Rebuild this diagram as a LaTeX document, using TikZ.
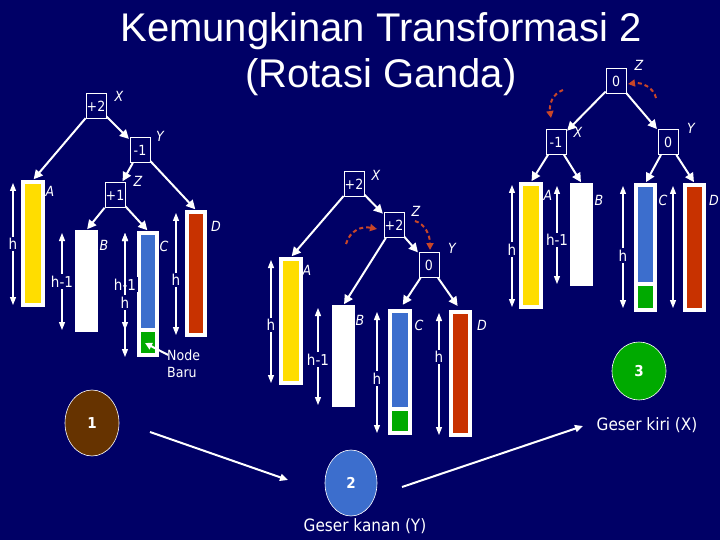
\documentclass[tikz,border=0pt]{standalone}
\usepackage{fontspec}
\setmainfont{DejaVu Sans Condensed}
\newfontfamily\titlefont{Liberation Sans}
\usetikzlibrary{shapes.geometric,arrows.meta,calc}
\definecolor{bg}{RGB}{0,0,102}
\definecolor{cyel}{RGB}{255,221,0}
\definecolor{cblue}{RGB}{60,110,205}
\definecolor{cgreen}{RGB}{0,170,0}
\definecolor{cred}{RGB}{200,50,0}
\definecolor{cbrown}{RGB}{102,51,0}
\definecolor{rdash}{RGB}{200,70,40}
\begin{document}
\begin{tikzpicture}[x=1pt,y=-1pt,
  bal/.style={draw=white, line width=0.8pt, minimum width=20pt, minimum height=25pt, inner sep=0pt, text=white, font=\fontsize{14}{14}\selectfont},
  lbl/.style={text=white, inner sep=0pt, font=\itshape\fontsize{14}{14}\selectfont},
  arr/.style={draw=white, line width=2pt, shorten >=1pt, -{Triangle[length=9pt,width=9pt]}},
  harr/.style={draw=white, line width=1.1pt, {Triangle[length=8pt,width=6pt]}-{Triangle[length=8pt,width=6pt]}},
  hl/.style={fill=bg, text=white, inner sep=1.5pt, font=\fontsize{15}{15}\selectfont},
  bar/.style={draw=white, line width=4pt, inner sep=0pt},
  rarr/.style={draw=rdash, line width=2pt, dash pattern=on 4pt off 3pt, -{Triangle[length=7pt,width=7pt]}},
  circ/.style={ellipse, draw=white, line width=0.6pt, text=white, font=\bfseries\fontsize{15}{15}\selectfont},
  captxt/.style={text=white, font=\fontsize{17}{17}\selectfont}
]
\useasboundingbox (0,0) rectangle (720,540);
\fill[bg] (0,0) rectangle (720,540);

% title
\node[text=white, anchor=base, font=\titlefont\fontsize{40}{40}\selectfont] (t1) at (381,42) {Kemungkinan Transformasi 2};
\node[text=white, anchor=base, font=\titlefont\fontsize{40}{40}\selectfont] (t2) at (381,88) {(Rotasi Ganda)};

% ===== left tree =====
\node[bal] (lX) at (96,106) {+2};
\node[bal] (lY) at (140,150) {-1};
\node[bal] (lZ) at (115,195) {+1};
\node[lbl] (lXl) at (119,96) {X};
\node[lbl] (lYl) at (160,136) {Y};
\node[lbl] (lZl) at (138,181) {Z};

\node[bar, fill=cyel, minimum width=20pt, minimum height=123pt] (lA) at (33,243.5) {};
\node[bar, fill=white, minimum width=19pt, minimum height=98pt] (lB) at (86.5,281) {};
\node[bar, fill=white, minimum width=18pt, minimum height=122pt] (lC) at (148,294) {};
\fill[cblue] ($(lC.north west)+(4,4)$) rectangle ($(lC.south east)+(-4,-29)$);
\fill[cgreen] ($(lC.south west)+(4,-25)$) rectangle ($(lC.south east)+(-4,-4)$);
\node[bar, fill=cred, minimum width=18pt, minimum height=123pt] (lD) at (196,273.5) {};
\node[lbl] (lAl) at (50,191) {A};
\node[lbl] (lBl) at (104,245) {B};
\node[lbl] (lCl) at (164,246) {C};
\node[lbl] (lDl) at (216,226) {D};

\draw[arr] (lX) -- (lA.north);
\draw[arr] (lX) -- (lY);
\draw[arr] (lY) -- (lZ);
\draw[arr] (lY) -- (lD.north);
\draw[arr] (lZ) -- (lB.north);
\draw[arr] (lZ) -- (lC.north);

\draw[harr] (13,183) -- node[hl] {h} (13,305);
\draw[harr] (62,233) -- node[hl] {h-1} (62,330);
\draw[harr] (125,233) -- node[hl, pos=0.53] {h-1} (125,330);
\draw[harr] (125,233) -- node[hl, pos=0.56] {h} (125,357);
\draw[harr] (176,213) -- node[hl, pos=0.55] {h} (176,335);

\node[text=white, anchor=west, align=left, inner sep=0pt, font=\fontsize{14}{17}\selectfont] (nb) at (167,364) {Node\\Baru};
\draw[draw=white, line width=2pt, -{Triangle[length=7pt,width=7pt]}] ($(nb.north west)+(1,5)$) -- (145,343);

% ===== middle tree =====
\node[bal] (mX) at (354,184) {+2};
\node[bal] (mZ) at (394,225) {+2};
\node[bal] (mY) at (429,265) {0};
\node[lbl] (mXl) at (376,175) {X};
\node[lbl] (mZl) at (416,211) {Z};
\node[lbl] (mYl) at (452,248) {Y};

\node[bar, fill=cyel, minimum width=20pt, minimum height=124pt] (mA) at (291,321) {};
\node[bar, fill=white, minimum width=19pt, minimum height=98pt] (mB) at (343.5,356) {};
\node[bar, fill=white, minimum width=20pt, minimum height=122pt] (mC) at (400,372) {};
\fill[cblue] ($(mC.north west)+(4,4)$) rectangle ($(mC.south east)+(-4,-28)$);
\fill[cgreen] ($(mC.south west)+(4,-24)$) rectangle ($(mC.south east)+(-4,-4)$);
\node[bar, fill=cred, minimum width=19pt, minimum height=123pt] (mD) at (460.5,373.5) {};
\node[lbl] (mAl) at (307,270) {A};
\node[lbl] (mBl) at (360,320) {B};
\node[lbl] (mCl) at (419,325) {C};
\node[lbl] (mDl) at (482,325) {D};

\draw[arr] (mX) -- (mA.north);
\draw[arr] (mX) -- (mZ);
\draw[arr] (mZ) -- (mB.north);
\draw[arr] (mZ) -- (mY);
\draw[arr, shorten >=5pt] (mY) -- (mC.north);
\draw[arr, shorten >=5pt] (mY) -- (mD.north);

\draw[harr] (271,260) -- node[hl, pos=0.53] {h} (271,383);
\draw[harr] (318,308) -- node[hl, pos=0.53] {h-1} (318,405);
\draw[harr] (377,312) -- node[hl, pos=0.55] {h} (377,433);
\draw[harr] (439,313) -- node[hl, pos=0.36] {h} (439,435);

\coordinate (mr1a) at (346,244);
\coordinate (mr1b) at (377,229);
\coordinate (mr2a) at (415,221);
\coordinate (mr2b) at (430,250);
\draw[rarr] (mr1a) .. controls (350,230) and (362,226) .. (mr1b);
\draw[rarr] (mr2a) .. controls (425,224) and (430,235) .. (mr2b);

% ===== right tree =====
\node[bal] (rZ) at (616,81) {0};
\node[bal] (rX) at (556,142) {-1};
\node[bal] (rY) at (668,142) {0};
\node[lbl] (rZl) at (639,65) {Z};
\node[lbl] (rXl) at (578,132) {X};
\node[lbl] (rYl) at (691,128) {Y};

\node[bar, fill=cyel, minimum width=20pt, minimum height=123pt] (rA) at (531,245.5) {};
\node[bar, fill=white, minimum width=19pt, minimum height=99pt] (rB) at (581.5,234.5) {};
\node[bar, fill=white, minimum width=19pt, minimum height=125pt] (rC) at (645.5,247.5) {};
\fill[cblue] ($(rC.north west)+(4,4)$) rectangle ($(rC.south east)+(-4,-30)$);
\fill[cgreen] ($(rC.south west)+(4,-26)$) rectangle ($(rC.south east)+(-4,-4)$);
\node[bar, fill=cred, minimum width=19pt, minimum height=125pt] (rD) at (694.5,247.5) {};
\node[lbl] (rAl) at (548,195) {A};
\node[lbl] (rBl) at (599,200) {B};
\node[lbl] (rCl) at (663,200) {C};
\node[lbl] (rDl) at (714,200) {D};

\draw[arr] (rZ) -- (rX);
\draw[arr] (rZ) -- (rY);
\draw[arr] (rX) -- (rA.north);
\draw[arr] (rX) -- (rB.north);
\draw[arr] (rY) -- (rC.north);
\draw[arr] (rY) -- (rD.north);

\draw[harr] (512,185) -- node[hl, pos=0.53] {h} (512,307);
\draw[harr] (557,186) -- node[hl, pos=0.55] {h-1} (557,284);
\draw[harr] (623,186) -- node[hl, pos=0.57] {h} (623,308);
\draw[harr] (673,186) -- (673,308);

\coordinate (rr1a) at (563,90);
\coordinate (rr1b) at (551,118);
\coordinate (rr2a) at (656,98);
\coordinate (rr2b) at (628,84);
\draw[rarr] (rr1a) .. controls (552,94) and (549,105) .. (rr1b);
\draw[rarr] (rr2a) .. controls (654,88) and (642,82) .. (rr2b);

% ===== bottom =====
\node[circ, fill=cbrown, minimum width=54pt, minimum height=66pt] (c1) at (92,423) {1};
\node[circ, fill=cblue, minimum width=52pt, minimum height=66pt] (c2) at (351,483) {2};
\node[circ, fill=cgreen, minimum width=54pt, minimum height=58pt] (c3) at (639,371) {3};
\node[captxt] (k2) at (365,526) {Geser kanan (Y)};
\node[captxt] (k3) at (647,425) {Geser kiri (X)};
\coordinate (s12) at (150,432);
\coordinate (e12) at (288,480);
\coordinate (s23) at (402,487);
\coordinate (e23) at (583,426);
\draw[draw=white, line width=2pt, -{Triangle[length=8pt,width=7pt]}] (s12) -- (e12);
\draw[draw=white, line width=2pt, -{Triangle[length=8pt,width=7pt]}] (s23) -- (e23);
\end{tikzpicture}
\end{document}
